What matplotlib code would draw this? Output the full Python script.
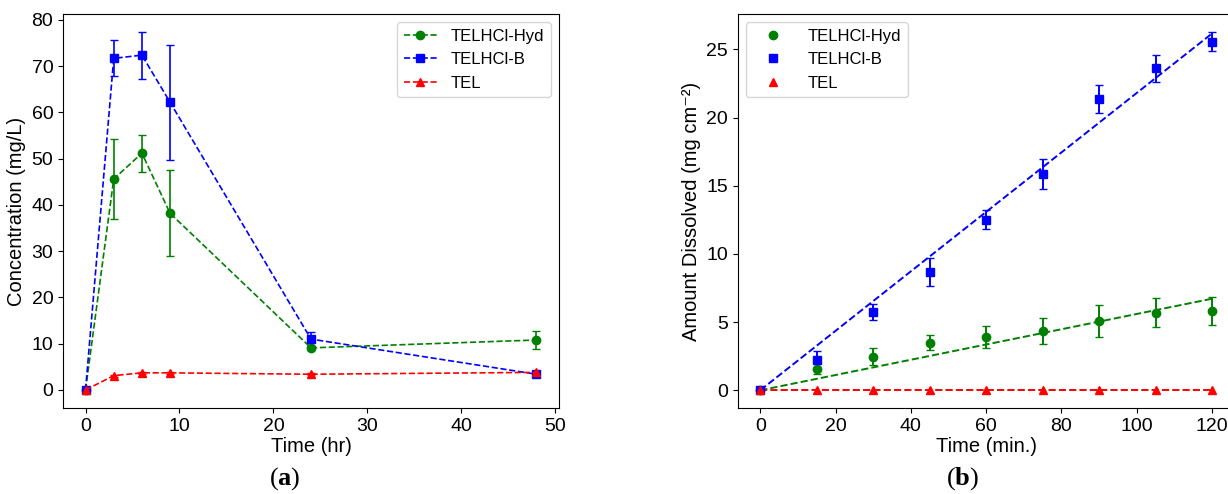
import numpy as np
import matplotlib
matplotlib.use("Agg")
import matplotlib.pyplot as plt

plt.rcParams["font.family"] = ["Liberation Sans", "DejaVu Sans"]
plt.rcParams["mathtext.fontset"] = "custom"
plt.rcParams["mathtext.rm"] = "Liberation Serif"
plt.rcParams["mathtext.bf"] = "Liberation Serif:bold"

# -- (a) plasma concentration -- #
t_hr = [0, 3, 6, 9, 24, 48]
hyd_conc = [0, 45.6, 51.2, 38.2, 9.1, 10.8]
hyd_conc_err = [0, 8.6, 4.0, 9.3, 0.5, 2.0]
b_conc = [0, 71.7, 72.4, 62.2, 11.0, 3.4]
b_conc_err = [0, 3.9, 5.1, 12.5, 1.5, 0.4]
tel_conc = [0, 3.1, 3.7, 3.7, 3.4, 3.8]
tel_conc_err = [0, 0.2, 0.2, 0.2, 0.2, 0.3]

# -- (b) intrinsic dissolution -- #
t_min = [0, 15, 30, 45, 60, 75, 90, 105, 120]
hyd_diss = [0, 1.59, 2.47, 3.47, 3.91, 4.33, 5.09, 5.70, 5.82]
hyd_diss_err = [0, 0.4, 0.65, 0.55, 0.8, 0.95, 1.2, 1.05, 1.05]
b_diss = [0, 2.2, 5.72, 8.68, 12.52, 15.87, 21.37, 23.62, 25.58]
b_diss_err = [0, 0.7, 0.6, 1.0, 0.7, 1.1, 1.0, 1.0, 0.7]
tel_diss = [0, 0, 0, 0, 0, 0, 0, 0, 0]

labels = ["TELHCl-Hyd", "TELHCl-B", "TEL"]
colours = ["green", "blue", "red"]
markers = ["o", "s", "^"]

fig = plt.figure(figsize=(12.28, 4.94), dpi=100)
ax1 = fig.add_axes([0.0513, 0.1741, 0.4039, 0.7976])
ax2 = fig.add_axes([0.6007, 0.1741, 0.4047, 0.7976])

series_a = [(hyd_conc, hyd_conc_err), (b_conc, b_conc_err), (tel_conc, tel_conc_err)]
handles = []
for (y, e), lab, c, m in zip(series_a, labels, colours, markers):
    cont = ax1.errorbar(t_hr, y, yerr=e, color=c, marker=m, ms=6, ls="--",
                        lw=1.2, capsize=3, elinewidth=1.2, label=lab)
    handles.append(cont[0])
ax1.set_xlim(-2.4, 50.4)
ax1.set_ylim(-3.9, 81.3)
ax1.set_xticks([0, 10, 20, 30, 40, 50])
ax1.set_yticks(np.arange(0, 81, 10))
ax1.set_xlabel("Time (hr)", fontsize=14.5, labelpad=2)
ax1.set_ylabel("Concentration (mg/L)", fontsize=14.5)
ax1.tick_params(labelsize=14)
ax1.legend(handles=handles, labels=labels, loc="upper right", fontsize=12)

# through-origin linear fits for (b)
x = np.array(t_min, dtype=float)
series_b = [(hyd_diss, hyd_diss_err), (b_diss, b_diss_err), (tel_diss, None)]
handles = []
for (y, e), lab, c, m in zip(series_b, labels, colours, markers):
    y = np.array(y, dtype=float)
    slope = (x * y).sum() / (x * x).sum()
    ax2.plot([x[0], x[-1]], [slope * x[0], slope * x[-1]], color=c,
             ls="--", lw=1.4)
    cont = ax2.errorbar(t_min, y, yerr=e, color=c, marker=m, ms=6, ls="none",
                        capsize=3, elinewidth=1.4, label=lab)
    handles.append(cont[0])
ax2.set_xlim(-6, 126)
ax2.set_ylim(-1.3, 27.6)
ax2.set_xticks([0, 20, 40, 60, 80, 100, 120])
ax2.set_yticks([0, 5, 10, 15, 20, 25])
ax2.set_xlabel("Time (min.)", fontsize=14.5, labelpad=2)
ax2.set_ylabel("Amount Dissolved (mg cm\u207b\u00b2)", fontsize=14.5)
ax2.tick_params(labelsize=14)
ax2.legend(handles=handles, labels=labels, loc="upper left", fontsize=12,
           handlelength=2.5)

fig.text(0.232, 0.032, r"($\mathbf{a}$)", ha="center", va="center",
         fontsize=19, family="Liberation Serif")
fig.text(0.784, 0.032, r"($\mathbf{b}$)", ha="center", va="center",
         fontsize=19, family="Liberation Serif")

fig.savefig("out.png", dpi=100)
